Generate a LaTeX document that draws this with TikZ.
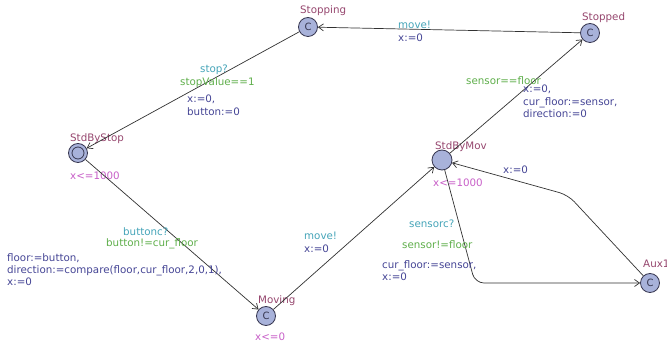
\documentclass[tikz,border=0pt]{standalone}
\usepackage{fontspec}
\setmainfont{DejaVu Sans}
\usetikzlibrary{arrows.meta}
\definecolor{locfill}{RGB}{168,178,218}
\definecolor{locdraw}{RGB}{55,55,80}
\definecolor{namecol}{RGB}{150,70,110}
\definecolor{invcol}{RGB}{200,95,200}
\definecolor{synccol}{RGB}{70,165,185}
\definecolor{guardcol}{RGB}{95,175,75}
\definecolor{assigncol}{RGB}{70,70,150}
\definecolor{edgecol}{RGB}{50,50,50}
\begin{document}
\begin{tikzpicture}[x=1pt,y=-1pt,
  loc/.style={circle, draw=locdraw, fill=locfill, line width=0.8pt, minimum size=19pt, inner sep=0pt,
    font=\fontsize{10}{10}\selectfont, text=locdraw},
  conn/.style={draw=edgecol, line width=0.7pt, -{Straight Barb[length=5pt,width=7pt]}, rounded corners=9pt},
  lbltxt/.style={anchor=base west, inner sep=0pt, font=\fontsize{10.3}{12}\selectfont},
  locname/.style={lbltxt, text=namecol},
  locinv/.style={lbltxt, text=invcol},
  lblsync/.style={lbltxt, text=synccol},
  lblguard/.style={lbltxt, text=guardcol},
  lblassign/.style={lbltxt, text=assigncol}]
\useasboundingbox[fill=white] (0,0) rectangle (667,344);

% locations
\node[loc] (stopping) at (308,27) {C};
\node[loc] (stopped) at (590,33) {C};
\node[loc] (sbs) at (78,153) {};
\draw[locdraw, line width=0.8pt] (sbs.center) circle (6pt);
\node[loc, minimum size=20pt] (sbm) at (442,160) {};
\node[loc] (moving) at (266,316) {C};
\node[loc] (aux) at (650,283) {C};

% location names and invariants
\node[locname] (nStopping) at (300,13.5) {Stopping};
\node[locname] (nStopped) at (582,20.5) {Stopped};
\node[locname] (nSbs) at (70,141.5) {StdByStop};
\node[locinv] (iSbs) at (70,179.5) {x<=1000};
\node[locname] (nSbm) at (435,149.5) {StdByMov};
\node[locinv] (iSbm) at (433,186.5) {x<=1000};
\node[locname] (nMoving) at (258,303.5) {Moving};
\node[locinv] (iMoving) at (255,340.5) {x<=0};
\node[locname] (nAux) at (643,268) {Aux1};

% nails
\coordinate (nailA) at (475,283);
\coordinate (nailB) at (568,195);

% edges
\draw[conn] (stopped) -- (stopping);
\draw[conn] (stopping) -- (sbs);
\draw[conn] (sbs) -- (moving);
\draw[conn] (moving) -- (sbm);
\draw[conn] (sbm) -- (stopped);
\draw[conn] (sbm) -- (nailA) -- (aux);
\draw[conn] (aux) -- (nailB) -- (sbm);

% edge labels
\node[lblsync] (l1a) at (398,28.5) {move!};
\node[lblassign] (l1b) at (398,41.5) {x:=0};

\node[lblsync] (l2a) at (200,72.5) {stop?};
\node[lblguard] (l2b) at (180,85.5) {stopValue==1};
\node[lblassign] (l2c) at (187,102.5) {x:=0,};
\node[lblassign] (l2d) at (187,115.5) {button:=0};

\node[lblsync] (l3a) at (123,235.5) {buttonc?};
\node[lblguard] (l3b) at (106,247) {button!=cur\_floor};
\node[lblassign] (l3c) at (7,261.5) {floor:=button,};
\node[lblassign] (l3d) at (7,273.5) {direction:=compare(floor,cur\_floor,2,0,1),};
\node[lblassign] (l3e) at (7,285.5) {x:=0};

\node[lblsync] (l4a) at (304,239.5) {move!};
\node[lblassign] (l4b) at (304,252.5) {x:=0};

\node[lblguard] (l5a) at (466,84.5) {sensor==floor};
\node[lblassign] (l5b) at (523,93) {x:=0,};
\node[lblassign] (l5c) at (523,105.5) {cur\_floor:=sensor,};
\node[lblassign] (l5d) at (523,117.5) {direction:=0};

\node[lblsync] (l6a) at (409,227.5) {sensorc?};
\node[lblguard] (l6b) at (402,248.5) {sensor!=floor};
\node[lblassign] (l6c) at (382,268.5) {cur\_floor:=sensor,};
\node[lblassign] (l6d) at (382,280.5) {x:=0};

\node[lblassign] (l7a) at (503,173.5) {x:=0};
\end{tikzpicture}
\end{document}
